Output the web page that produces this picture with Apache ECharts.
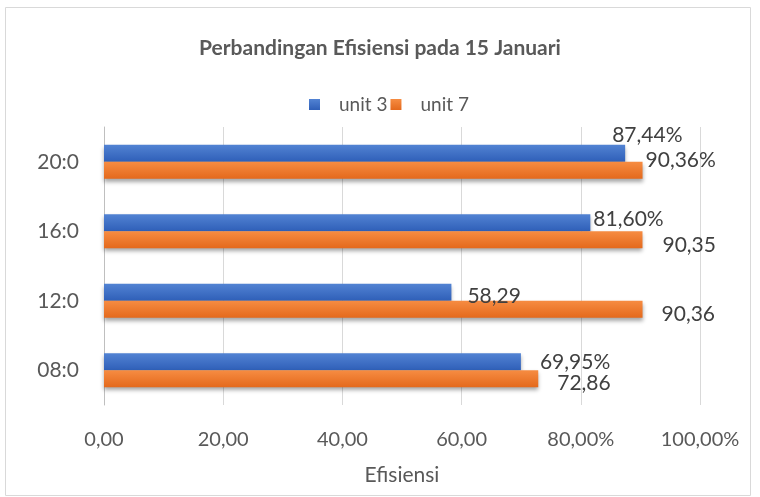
<!DOCTYPE html>
<html>
<head>
<meta charset="utf-8">
<script src="https://cdn.jsdelivr.net/npm/echarts@6/dist/echarts.min.js"></script>
<style>
  html, body { margin: 0; padding: 0; background: #fff; }
  #chart { width: 760px; height: 497px; }
</style>
</head>
<body>
<div id="chart"></div>
<script>
// data
const categories = ['20:0', '16:0', '12:0', '08:0']
const unit3 = [87.44, 81.60, 58.29, 69.95]
const unit7 = [90.36, 90.35, 90.36, 72.86]
const unit3Labels = ['87,44%', '81,60%', '58,29', '69,95%']
const unit7Labels = ['90,36%', '90,35', '90,36', '72,86']
const xTickLabels = { 0: '0,00', 20: '20,00', 40: '40,00', 60: '60,00', 80: '80,00%', 100: '100,00%' }

// label offsets so they sit like in the original
const unit3Offsets = [[-13, -18], [3, -4], [16, 4], [19, 0]]
const unit7Offsets = [[3, -10], [20, 5], [19, 5], [19, 4]]

const font = 'Lato, "Open Sans", sans-serif'
const textColor = '#595959'

const chart = echarts.init(document.getElementById('chart'))

const gradient = (top, bottom) => new echarts.graphic.LinearGradient(0, 0, 0, 1, [
  { offset: 0, color: top },
  { offset: 1, color: bottom }
])

const makeData = (values, labels, offsets) => values.map((v, i) => ({
  value: v,
  label: { formatter: labels[i], offset: offsets[i] }
}))

const barLabel = {
  show: true,
  position: 'right',
  distance: 0,
  color: '#404040',
  fontSize: 21,
  fontFamily: font
}

chart.setOption({
  animation: false,
  title: {
    text: 'Perbandingan Efisiensi pada 15 Januari',
    left: 'center',
    top: 33,
    textStyle: {
      color: textColor,
      fontSize: 21,
      fontWeight: 'bold',
      fontFamily: font
    }
  },
  legend: {
    data: ['unit 3', 'unit 7'],
    left: 304,
    top: 90,
    icon: 'rect',
    itemWidth: 11,
    itemHeight: 11,
    itemGap: 3,
    textStyle: {
      color: textColor,
      fontSize: 19,
      fontFamily: font,
      padding: [0, 0, 0, 14]
    }
  },
  graphic: [{
    type: 'rect',
    shape: { x: 5.5, y: 7.5, width: 745, height: 488 },
    style: { fill: 'none', stroke: '#d9d9d9', lineWidth: 1 },
    silent: true
  }],
  grid: {
    left: 104,
    right: 60,
    top: 127,
    bottom: 92
  },
  xAxis: {
    type: 'value',
    min: 0,
    max: 100,
    interval: 20,
    name: 'Efisiensi',
    nameLocation: 'middle',
    nameGap: 60,
    nameTextStyle: { color: textColor, fontSize: 21, fontFamily: font },
    axisLine: { show: false },
    axisTick: { show: false },
    axisLabel: {
      color: textColor,
      fontSize: 20,
      fontFamily: font,
      margin: 25,
      formatter: v => xTickLabels[v]
    },
    splitLine: { lineStyle: { color: '#d9d9d9', width: 1 } }
  },
  yAxis: {
    type: 'category',
    inverse: true,
    data: categories,
    axisLine: { lineStyle: { color: '#bfbfbf' } },
    axisTick: { length: 5, lineStyle: { color: '#bfbfbf' } },
    axisLabel: {
      color: textColor,
      fontSize: 21,
      fontFamily: font,
      margin: 25
    }
  },
  series: [
    {
      name: 'unit 3',
      type: 'bar',
      barGap: '0%',
      barCategoryGap: '51%',
      data: makeData(unit3, unit3Labels, unit3Offsets),
      label: barLabel,
      itemStyle: {
        color: gradient('#5283d3', '#2f5fb8'),
        shadowColor: 'rgba(0,0,0,0.35)',
        shadowBlur: 4,
        shadowOffsetY: 3
      }
    },
    {
      name: 'unit 7',
      type: 'bar',
      data: makeData(unit7, unit7Labels, unit7Offsets),
      label: barLabel,
      itemStyle: {
        color: gradient('#f68c42', '#e4691c'),
        shadowColor: 'rgba(0,0,0,0.35)',
        shadowBlur: 4,
        shadowOffsetY: 3
      }
    }
  ]
})
</script>
</body>
</html>
